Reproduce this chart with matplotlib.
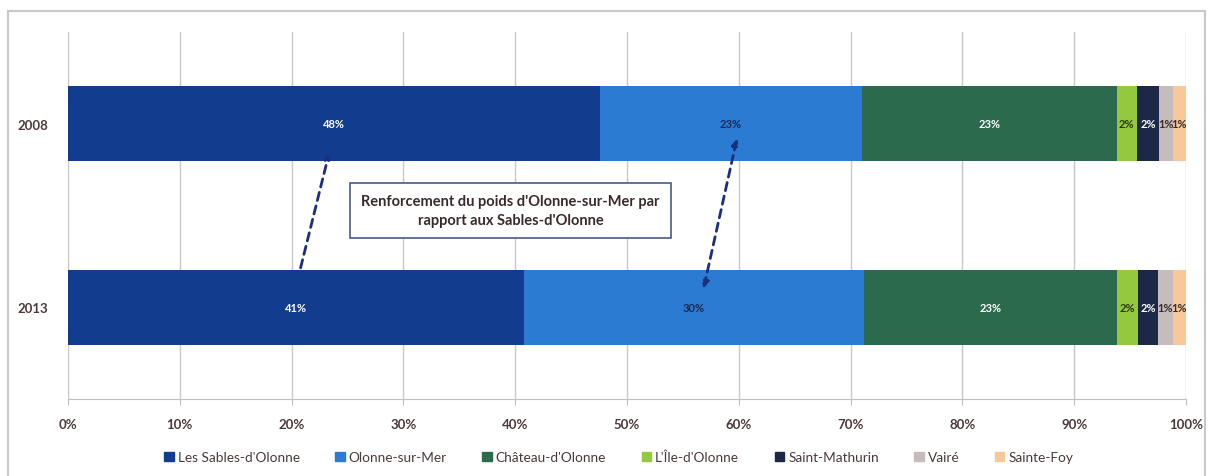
import matplotlib.pyplot as plt
from matplotlib.patches import Rectangle
from matplotlib.lines import Line2D

plt.rcParams['font.family'] = ['Lato', 'DejaVu Sans']

years = ['2013', '2008']
communes = ["Les Sables-d'Olonne", 'Olonne-sur-Mer', "Château-d'Olonne",
            "L'Île-d'Olonne", 'Saint-Mathurin', 'Vairé', 'Sainte-Foy']
share_2008 = [47.6, 23.4, 22.8, 1.8, 2.0, 1.2, 1.2]
share_2013 = [40.8, 30.4, 22.6, 1.9, 1.8, 1.3, 1.2]
x_ticks = [0, 10, 20, 30, 40, 50, 60, 70, 80, 90, 100]

colors = ['#123d8f', '#2b7bd3', '#2b6a4d', '#93c83f', '#1d2848', '#c6bcbc', '#f9c899']
label_colors = ['white', '#1a2a55', 'white', '#2a3a10', 'white', '#3a2a2a', '#3a2a2a']

fig = plt.figure(figsize=(12.13, 4.77), dpi=100)
ax = fig.add_axes([0.056, 0.1614, 0.9217, 0.7694])

rows = [share_2013, share_2008]
for yi, row in enumerate(rows):
    left = 0
    for i, v in enumerate(row):
        ax.barh(yi, v, left=left, height=0.41, color=colors[i],
                label=communes[i] if yi == 0 else None, zorder=2)
        ax.text(left + v / 2, yi, f'{v:.0f}%', ha='center', va='center',
                fontsize=8, fontweight='bold', color=label_colors[i], zorder=3)
        left += v

ax.set_xlim(0, 100)
ax.set_ylim(-0.5, 1.5)
ax.set_yticks([0, 1])
ax.set_yticklabels(years, fontsize=9.5, fontweight='bold', color='#4a3a3a')
ax.set_xticks(x_ticks)
ax.set_xticklabels([f'{t}%' for t in x_ticks], fontsize=9.5, fontweight='bold', color='#4a3a3a')
ax.tick_params(axis='y', length=0, pad=14)
ax.tick_params(axis='x', length=4, color='#bfbfbf', pad=10)
ax.grid(axis='x', color='#c8c8c8', lw=1, zorder=0)
for s in ['top', 'right', 'left']:
    ax.spines[s].set_visible(False)
ax.spines['bottom'].set_color('#bfbfbf')

# annotation box and dashed arrows
ax.text(39.6, 0.527, "Renforcement du poids d'Olonne-sur-Mer par\nrapport aux Sables-d'Olonne",
        ha='center', va='center', fontsize=10.5, fontweight='bold', color='#3a2a2a',
        linespacing=1.45, zorder=5,
        bbox=dict(boxstyle='square,pad=0.75', fc='white', ec='#4a5a8a', lw=1.2))
ax.annotate('', xy=(23.4, 0.85), xytext=(20.75, 0.2), zorder=4,
            arrowprops=dict(arrowstyle='-|>,head_length=0.3,head_width=0.15',
                            ls=(0, (3, 2)), lw=2, color='#1b2f7a'))
ax.annotate('', xy=(59.9, 0.935), xytext=(56.8, 0.087), zorder=4,
            arrowprops=dict(arrowstyle='<|-|>,head_length=0.4,head_width=0.2',
                            ls=(0, (3, 2)), lw=2, color='#1b2f7a'))

handles = [Rectangle((0, 0), 1, 1, color=c) for c in colors]
fig.legend(handles, communes, loc='center', bbox_to_anchor=(0.51, 0.04), ncol=7,
           frameon=False, fontsize=9.8, handlelength=0.7, handleheight=0.7,
           handletextpad=0.3, columnspacing=2.6, labelcolor='#4a3a3a')

# outer chart frame
fx0, fx1, fy1 = 8 / 1213, 1205 / 1213, 1 - 12 / 477
for xs, ys in [([fx0, fx0], [0, fy1]), ([fx0, fx1], [fy1, fy1]), ([fx1, fx1], [fy1, 0])]:
    fig.add_artist(Line2D(xs, ys, color='#c8c8c8', lw=1.5, transform=fig.transFigure))

fig.savefig('out.png', dpi=100)
